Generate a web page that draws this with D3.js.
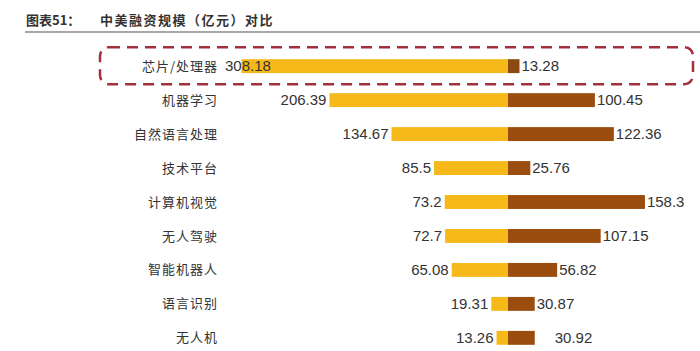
<!DOCTYPE html>
<html>
<head>
<meta charset="utf-8">
<script src="https://cdn.jsdelivr.net/npm/d3@7"></script>
<style>
  body { margin: 0; background: #fff; }
</style>
</head>
<body>
<div id="chart"></div>
<script>
// data
var categories = ["芯片/处理器", "机器学习", "自然语言处理", "技术平台", "计算机视觉", "无人驾驶", "智能机器人", "语言识别", "无人机"];
var chinaValues = [308.18, 206.39, 134.67, 85.5, 73.2, 72.7, 65.08, 19.31, 13.26];
var usValues = [13.28, 100.45, 122.36, 25.76, 158.3, 107.15, 56.82, 30.87, 30.92];
var chinaLabels = ["308.18", "206.39", "134.67", "85.5", "73.2", "72.7", "65.08", "19.31", "13.26"];
var usLabels = ["13.28", "100.45", "122.36", "25.76", "158.3", "107.15", "56.82", "30.87", "30.92"];

var width = 700, height = 351;
var centerX = 508;
var labelRight = 218;

var svg = d3.select("#chart")
  .append("svg")
  .attr("width", width)
  .attr("height", height);

// title
svg.append("text")
  .attr("x", 26)
  .attr("y", 25)
  .attr("font-family", "'Noto Sans CJK SC', sans-serif")
  .attr("font-size", "13px")
  .attr("font-weight", "700")
  .attr("fill", "#333")
  .text("图表51：");

svg.append("text")
  .attr("x", 100)
  .attr("y", 25)
  .attr("font-family", "'Noto Sans CJK SC', sans-serif")
  .attr("font-size", "13px")
  .attr("font-weight", "700")
  .attr("fill", "#333")
  .attr("letter-spacing", "1.5px")
  .text("中美融资规模（亿元）对比");

svg.append("line")
  .attr("x1", 25).attr("x2", 700)
  .attr("y1", 32).attr("y2", 32)
  .attr("stroke", "#8a8a8a")
  .attr("stroke-width", 1.5);

// scales
var yScale = d3.scaleBand()
  .domain(categories)
  .range([49, 355])
  .paddingInner(0.59)
  .paddingOuter(0.3);

var xLeft = d3.scaleLinear()
  .domain([0, 100])
  .range([centerX, centerX - 86.5]);

var xRight = d3.scaleLinear()
  .domain([0, 100])
  .range([centerX, centerX + 86.5]);

var rows = categories.map(function(c, i) {
  return { cat: c, cn: chinaValues[i], us: usValues[i], cnLabel: chinaLabels[i], usLabel: usLabels[i] };
});

// highlight box around first row
var first = yScale(categories[0]);
svg.append("rect")
  .attr("x", 100)
  .attr("y", first + yScale.bandwidth() / 2 - 19)
  .attr("width", 593)
  .attr("height", 37)
  .attr("rx", 9)
  .attr("fill", "none")
  .attr("stroke", "#a2303c")
  .attr("stroke-width", 2.5)
  .attr("stroke-dasharray", "11,7");

var g = svg.selectAll(".row")
  .data(rows)
  .enter()
  .append("g")
  .attr("class", "row")
  .attr("transform", function(d) { return "translate(0," + yScale(d.cat) + ")"; });

var bh = yScale.bandwidth();

g.append("rect")
  .attr("x", function(d) { return xLeft(d.cn); })
  .attr("y", 0)
  .attr("width", function(d) { return centerX - xLeft(d.cn); })
  .attr("height", bh)
  .attr("fill", "#f5b919");

g.append("rect")
  .attr("x", centerX)
  .attr("y", 0)
  .attr("width", function(d) { return xRight(d.us) - centerX; })
  .attr("height", bh)
  .attr("fill", function(d, i) { return i === 0 ? "#8a4a12" : "#9b4d0f"; });

// category labels
g.append("text")
  .attr("x", labelRight)
  .attr("y", bh / 2)
  .attr("dy", "0.35em")
  .attr("text-anchor", "end")
  .attr("font-family", "'Noto Sans CJK SC', sans-serif")
  .attr("font-size", "13px")
  .attr("fill", "#333")
  .attr("letter-spacing", "1px")
  .text(function(d) { return d.cat; });

// value labels, left side
g.append("text")
  .attr("y", bh / 2)
  .attr("dy", "0.35em")
  .attr("font-family", "'Liberation Sans', Arial, sans-serif")
  .attr("font-size", "15px")
  .attr("fill", "#333")
  .text(function(d) { return d.cnLabel; })
  .each(function(d) {
    var t = d3.select(this);
    var w = this.getComputedTextLength();
    var right = xLeft(d.cn) - 3;
    if (right - w < labelRight + 4) {
      t.attr("x", labelRight + 7).attr("text-anchor", "start");
    } else {
      t.attr("x", right).attr("text-anchor", "end");
    }
  });

// value labels, right side
var nudge = { "无人机": 18 };
g.append("text")
  .attr("x", function(d) { return xRight(d.us) + 2 + (nudge[d.cat] || 0); })
  .attr("y", bh / 2)
  .attr("dy", "0.35em")
  .attr("font-family", "'Liberation Sans', Arial, sans-serif")
  .attr("font-size", "15px")
  .attr("fill", "#333")
  .text(function(d) { return d.usLabel; });
</script>
</body>
</html>
